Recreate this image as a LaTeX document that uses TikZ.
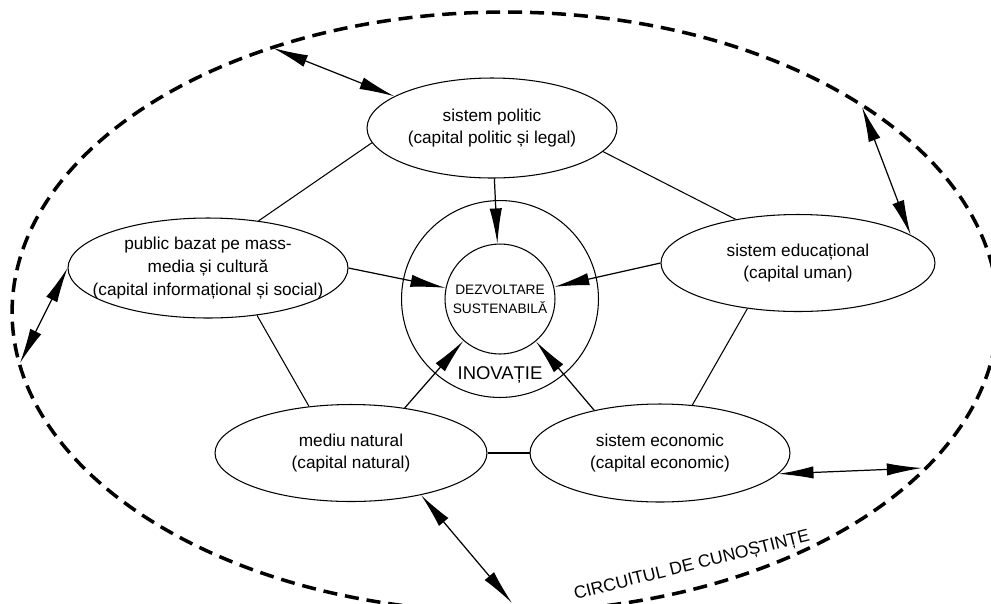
\documentclass[tikz,border=0pt]{standalone}
\usepackage{fontspec}
\setmainfont{Liberation Sans}
\usetikzlibrary{shapes.geometric,arrows.meta}
\begin{document}
\begin{tikzpicture}[x=0.02cm,y=-0.02cm,>={Latex[length=20pt,width=7pt]},
  capital/.style={draw,ellipse,inner sep=0pt,line width=0.6pt},
  caption/.style={align=center,font=\fontsize{9.8}{13}\selectfont},
  link/.style={line width=0.6pt},
  flux/.style={->,line width=0.7pt},
  dual/.style={<->,line width=0.7pt}]
\useasboundingbox (0,0) rectangle (991,603);
% circuitul de cunostinte
\draw[line width=2pt,dash pattern=on 8pt off 4.5pt] (505,312) ellipse [x radius=9.86cm,y radius=6cm];
\node[rotate=14,font=\fontsize{10}{12}\selectfont] (circuit) at (692,566) {CIRCUITUL DE CUNOȘTINȚE};
% centru
\node[draw,circle,minimum size=3.94cm,line width=0.6pt] (inovatie) at (500,299) {};
\node[draw,circle,minimum size=2.2cm,inner sep=0pt,line width=0.6pt,align=center,
  font=\fontsize{7.8}{11}\selectfont] (dezvoltare) at (500,299) {DEZVOLTARE\\SUSTENABILĂ};
\node[font=\fontsize{10.5}{12}\selectfont] (inovtext) at (500,375) {INOVAȚIE};
% sisteme
\node[capital,minimum width=5cm,minimum height=2cm,
  label={[caption]center:{sistem politic\\(capital politic și legal)}}] (politic) at (492,128) {};
\node[capital,minimum width=5.6cm,minimum height=2cm,
  label={[caption]center:{public bazat pe mass-\\media și cultură\\(capital informațional și social)}}] (media) at (208,268) {};
\node[capital,minimum width=5.48cm,minimum height=1.94cm,
  label={[caption]center:{sistem educațional\\(capital uman)}}] (educatie) at (798,263) {};
\node[capital,minimum width=5.44cm,minimum height=1.94cm,
  label={[caption]center:{mediu natural\\(capital natural)}}] (natural) at (351,453) {};
\node[capital,minimum width=5.2cm,minimum height=1.96cm,
  label={[caption]center:{sistem economic\\(capital economic)}}] (economic) at (660,453) {};
% legaturi
\draw[link] (politic.187) -- (media.43);
\draw[link] (politic.-12) -- (educatie.145);
\draw[link] (media.-44) -- (natural.132);
\draw[link] (educatie.222) -- (economic.56);
\draw[link] (natural) -- (economic);
% spre centru
\draw[flux] (politic) -- (dezvoltare);
\draw[flux] (media.east) -- (dezvoltare);
\draw[flux] (educatie.west) -- (dezvoltare);
\draw[flux] (natural.40) -- (dezvoltare);
\draw[flux] (economic.147) -- (dezvoltare);
% spre circuit
\coordinate (k1) at (273,48);
\coordinate (k2) at (862,107);
\coordinate (k3) at (20,363);
\coordinate (k4) at (922,468);
\coordinate (k5) at (512,603);
\draw[dual] (k1) -- (politic.162);
\draw[dual] (k2) -- (educatie.14);
\draw[dual] (k3) -- (media.west);
\draw[dual] (k4) -- (economic.-10);
\draw[dual] (k5) -- (natural.-31);
\end{tikzpicture}
\end{document}
